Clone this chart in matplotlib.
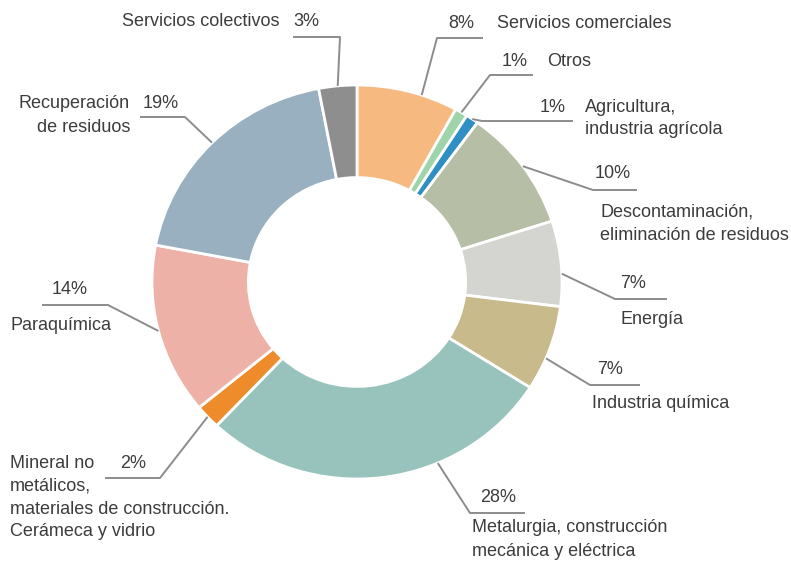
import numpy as np
import matplotlib
matplotlib.use('Agg')
import matplotlib.pyplot as plt

# Sector shares (%) clockwise from 12 o'clock
sectors = ['Servicios comerciales', 'Otros', 'Agricultura,\nindustria agrícola',
           'Descontaminación,\neliminación de residuos', 'Energía', 'Industria química',
           'Metalurgia, construcción\nmecánica y eléctrica',
           'Mineral no\nmetálicos,\nmateriales de construcción.\nCerámeca y vidrio',
           'Paraquímica', 'Recuperación\nde residuos', 'Servicios colectivos']
shares = [8, 1, 1, 10, 7, 7, 28, 2, 14, 19, 3]
colors = ['#F6BA80', '#9FD4AA', '#2F8FC4', '#B6BFA6', '#D4D4D0', '#C9BA8B',
          '#98C3BD', '#EE8B2B', '#EEB1A7', '#99B0C0', '#8E8E8E']

W, H = 791, 563
CX, CY = 357, 282      # donut centre in pixels
RX, RY = 205, 197      # pixel size of unit radius
LINE_H = 23            # label line height in pixels

# label layout in pixels: elbow, line end x, pct pos, name pos, name align, anchor angle offset
layout = [
    ((437, 38), 483, (448, 23), (497, 23), 'left', -4),
    ((490, 75), 533, (502, 61), (547, 61), 'left', 0),
    ((482, 121), 573, (540, 107), (585, 107), 'left', 0),
    ((593, 190), 637, (595, 174), (600, 212), 'left', 0),
    ((615, 299), 667, (620, 284), (620, 320), 'left', -3),
    ((590, 385), 640, (597, 370), (592, 404), 'left', -3),
    ((470, 513), 525, (480, 498), (472, 528), 'left', 16),
    ((160, 478), 105, (120, 463), (10, 463), 'left', 0),
    ((108, 305), 42, (52, 290), (10, 325), 'left', 0),
    ((185, 117), 140, (143, 104), (130, 104), 'right', 0),
    ((340, 37), 293, (293, 22), (280, 22), 'right', 0),
]


def px(x, y):
    return (x - CX) / RX, (CY - y) / RY


plt.rcParams['font.family'] = ['Liberation Sans', 'DejaVu Sans']
fig = plt.figure(figsize=(W / 100, H / 100), dpi=100)
ax = fig.add_axes([0, 0, 1, 1])

wedges, _ = ax.pie(shares, colors=colors, startangle=90, counterclock=False,
                   radius=1.0, wedgeprops=dict(width=0.47, edgecolor='white', linewidth=2))
ax.set_aspect('auto')
ax.set_xlim(px(0, 0)[0], px(W, 0)[0])
ax.set_ylim(px(0, H)[1], px(0, 0)[1])
ax.axis('off')

txt_col = '#3C3C3C'
line_col = '#8C8C8C'
for w, name, val, lay in zip(wedges, sectors, shares, layout):
    (ex, ey), endx, (tx, ty), (nx, ny), nha, off = lay
    ang = np.deg2rad((w.theta1 + w.theta2) / 2 + off)
    ax_, ay_ = np.cos(ang), np.sin(ang)
    e = px(ex, ey)
    f = px(endx, ey)
    ax.plot([ax_, e[0], f[0]], [ay_, e[1], f[1]], color=line_col, lw=1.4,
            solid_capstyle='butt', zorder=3)
    p = px(tx, ty)
    ax.text(p[0], p[1], f'{val}%', ha='left', va='center', fontsize=13, color=txt_col)
    # name lines drawn one by one
    for i, line in enumerate(name.split('\n')):
        q = px(nx, ny + i * LINE_H)
        ax.text(q[0], q[1], line, ha=nha if i == 0 else nha, va='center',
                fontsize=13, color=txt_col)

fig.savefig('out.png', dpi=100)
